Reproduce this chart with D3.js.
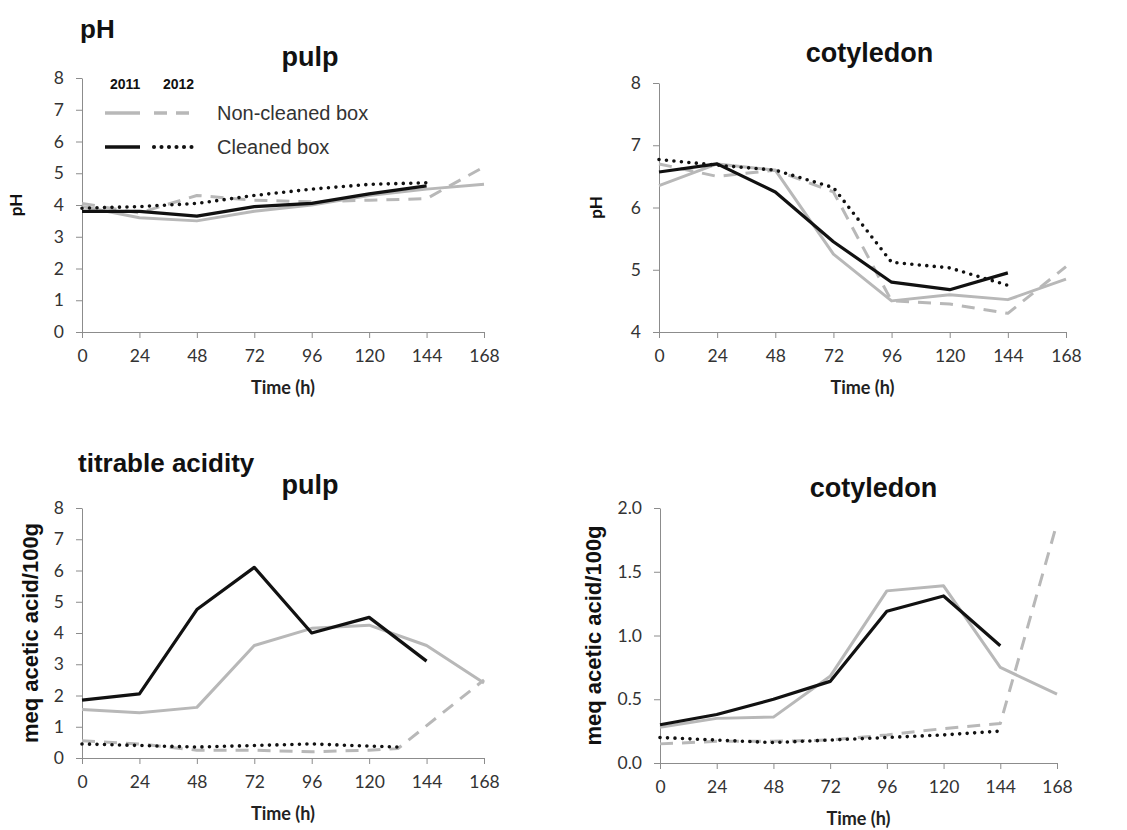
<!DOCTYPE html>
<html>
<head>
<meta charset="utf-8">
<script src="https://cdn.jsdelivr.net/npm/d3@7"></script>
<style>
  body { margin: 0; background: #fff; }
  svg { display: block; }
  .tick text { font-family: Lato, "Open Sans", sans-serif; font-size: 17.5px; fill: #333; }
  .domain, .tick line { stroke: #8c8c8c; }
</style>
</head>
<body>
<div id="chart"></div>
<script>
// time points (h)
const hours = [0, 24, 48, 72, 96, 120, 144, 168];
const hoursShort = [0, 24, 48, 72, 96, 120, 144];
const hoursAcid12 = [0, 24, 48, 72, 96, 120, 132, 168];
const hoursAcid12c = [0, 24, 48, 72, 96, 120, 132];
const xTicks = [0, 24, 48, 72, 96, 120, 144, 168];

// pH pulp
const phPulpNC11 = [3.95, 3.6, 3.5, 3.8, 4.0, 4.3, 4.5, 4.65];
const phPulpNC12 = [4.05, 3.75, 4.3, 4.15, 4.1, 4.15, 4.2, 5.2];
const phPulpC11 = [3.8, 3.8, 3.65, 3.95, 4.05, 4.35, 4.6];
const phPulpC12 = [3.9, 3.95, 4.05, 4.3, 4.5, 4.65, 4.7];

// pH cotyledon
const phCotNC11 = [6.35, 6.7, 6.6, 5.25, 4.5, 4.6, 4.52, 4.85];
const phCotNC12 = [6.7, 6.5, 6.6, 6.25, 4.5, 4.45, 4.3, 5.05];
const phCotC11 = [6.57, 6.7, 6.25, 5.45, 4.8, 4.68, 4.95];
const phCotC12 = [6.77, 6.68, 6.6, 6.32, 5.12, 5.03, 4.75];

// titrable acidity pulp
const taPulpNC11 = [1.55, 1.45, 1.62, 3.6, 4.15, 4.25, 3.6, 2.4];
const taPulpNC12 = [0.55, 0.45, 0.25, 0.25, 0.2, 0.25, 0.3, 2.5];
const taPulpC11 = [1.85, 2.05, 4.75, 6.1, 4.0, 4.5, 3.1];
const taPulpC12 = [0.45, 0.4, 0.35, 0.4, 0.45, 0.38, 0.35];

// titrable acidity cotyledon
const taCotNC11 = [0.28, 0.35, 0.36, 0.68, 1.35, 1.39, 0.75, 0.54];
const taCotNC12 = [0.15, 0.17, 0.17, 0.18, 0.22, 0.27, 0.31, 1.88];
const taCotC11 = [0.3, 0.38, 0.5, 0.64, 1.19, 1.31, 0.92];
const taCotC12 = [0.2, 0.18, 0.16, 0.18, 0.2, 0.22, 0.25];

const styles = {
  nc11: { stroke: '#b8b8b8', width: 3, dash: null, cap: 'butt' },
  nc12: { stroke: '#b8b8b8', width: 3, dash: '13,9', cap: 'butt' },
  c11: { stroke: '#111', width: 3.2, dash: null, cap: 'butt' },
  c12: { stroke: '#111', width: 3.6, dash: '0,7.5', cap: 'round' }
};

const svg = d3.select('#chart').append('svg')
  .attr('width', 1127).attr('height', 830);

function panel(cfg) {
  const x = d3.scaleLinear().domain([0, 168]).range([cfg.left, cfg.right]);
  const y = d3.scaleLinear().domain(cfg.yDomain).range([cfg.bottom, cfg.top]);
  const g = svg.append('g');

  g.append('g').attr('transform', `translate(0,${cfg.bottom})`)
    .call(d3.axisBottom(x).tickValues(xTicks).tickSize(6).tickPadding(12).tickSizeOuter(0));
  g.append('g').attr('transform', `translate(${cfg.left},0)`)
    .call(d3.axisLeft(y).tickValues(cfg.yTicks).tickFormat(cfg.fmt).tickSize(6).tickPadding(12).tickSizeOuter(0));

  const line = d3.line().x(d => x(d[0])).y(d => y(d[1]));
  cfg.series.forEach(s => {
    const st = styles[s.style];
    g.append('path')
      .datum(s.t.map((t, i) => [t, s.v[i]]))
      .attr('d', line)
      .attr('fill', 'none')
      .attr('stroke', st.stroke)
      .attr('stroke-width', st.width)
      .attr('stroke-dasharray', st.dash)
      .attr('stroke-linecap', st.cap)
      .attr('stroke-linejoin', 'round');
  });

  g.append('text')
    .attr('x', (cfg.left + cfg.right) / 2 + cfg.titleDx).attr('y', cfg.titleY)
    .attr('text-anchor', 'middle')
    .style('font-family', '"Liberation Sans", Arial, sans-serif')
    .style('font-weight', 'bold').style('font-size', '27px').style('fill', '#111')
    .text(cfg.title);

  g.append('text')
    .attr('x', (cfg.left + cfg.right) / 2).attr('y', cfg.bottom + 62)
    .attr('text-anchor', 'middle')
    .style('font-family', 'Lato, "Open Sans", sans-serif')
    .style('font-weight', 'bold').style('font-size', '18px').style('fill', '#222')
    .text('Time (h)');

  g.append('text')
    .attr('transform', `translate(${cfg.yLabelX},${(cfg.top + cfg.bottom) / 2}) rotate(-90)`)
    .attr('text-anchor', 'middle')
    .style('font-family', cfg.yLabelFont)
    .style('font-weight', 'bold').style('font-size', cfg.yLabelSize).style('fill', '#111')
    .text(cfg.yLabel);
}

const fmtInt = d3.format('d');
const fmt1 = d3.format('.1f');

panel({
  left: 82, right: 484, top: 78, bottom: 332,
  yDomain: [0, 8], yTicks: d3.range(0, 9), fmt: fmtInt,
  title: 'pulp', titleDx: 27, titleY: 66,
  yLabel: 'pH', yLabelX: 22, yLabelFont: 'Lato, sans-serif', yLabelSize: '17px',
  series: [
    { t: hours, v: phPulpNC11, style: 'nc11' },
    { t: hours, v: phPulpNC12, style: 'nc12' },
    { t: hoursShort, v: phPulpC11, style: 'c11' },
    { t: hoursShort, v: phPulpC12, style: 'c12' }
  ]
});

panel({
  left: 659, right: 1066, top: 83, bottom: 332,
  yDomain: [4, 8], yTicks: [4, 5, 6, 7, 8], fmt: fmtInt,
  title: 'cotyledon', titleDx: 7, titleY: 62,
  yLabel: 'pH', yLabelX: 602, yLabelFont: 'Lato, sans-serif', yLabelSize: '17px',
  series: [
    { t: hours, v: phCotNC11, style: 'nc11' },
    { t: hours, v: phCotNC12, style: 'nc12' },
    { t: hoursShort, v: phCotC11, style: 'c11' },
    { t: hoursShort, v: phCotC12, style: 'c12' }
  ]
});

panel({
  left: 82, right: 484, top: 508, bottom: 758,
  yDomain: [0, 8], yTicks: d3.range(0, 9), fmt: fmtInt,
  title: 'pulp', titleDx: 27, titleY: 494,
  yLabel: 'meq acetic acid/100g', yLabelX: 38, yLabelFont: '"Liberation Sans", Arial, sans-serif', yLabelSize: '22px',
  series: [
    { t: hours, v: taPulpNC11, style: 'nc11' },
    { t: hoursAcid12, v: taPulpNC12, style: 'nc12' },
    { t: hoursShort, v: taPulpC11, style: 'c11' },
    { t: hoursAcid12c, v: taPulpC12, style: 'c12' }
  ]
});

panel({
  left: 660, right: 1057, top: 508, bottom: 763,
  yDomain: [0, 2], yTicks: [0, 0.5, 1, 1.5, 2], fmt: fmt1,
  title: 'cotyledon', titleDx: 15, titleY: 497,
  yLabel: 'meq acetic acid/100g', yLabelX: 601, yLabelFont: '"Liberation Sans", Arial, sans-serif', yLabelSize: '22px',
  series: [
    { t: hours, v: taCotNC11, style: 'nc11' },
    { t: hours, v: taCotNC12, style: 'nc12' },
    { t: hoursShort, v: taCotC11, style: 'c11' },
    { t: hoursShort, v: taCotC12, style: 'c12' }
  ]
});

// section headings
const heading = (txt, x, y) => svg.append('text')
  .attr('x', x).attr('y', y)
  .style('font-family', '"Liberation Sans", Arial, sans-serif')
  .style('font-weight', 'bold').style('font-size', '26px').style('fill', '#111')
  .text(txt);
heading('pH', 80, 38);
heading('titrable acidity', 78, 472);

// legend
const legend = svg.append('g');
legend.selectAll('text.yr').data(['2011', '2012']).join('text')
  .attr('class', 'yr')
  .attr('x', (d, i) => 110 + i * 53).attr('y', 89)
  .style('font-family', '"Liberation Sans", Arial, sans-serif')
  .style('font-weight', 'bold').style('font-size', '14px').style('fill', '#111')
  .text(d => d);
const legendRows = [
  { label: 'Non-cleaned box', a: 'nc11', b: 'nc12', y: 113 },
  { label: 'Cleaned box', a: 'c11', b: 'c12', y: 147 }
];
legendRows.forEach(r => {
  [[r.a, 105, 140], [r.b, 154, 198]].forEach(([k, x1, x2]) => {
    const st = styles[k];
    legend.append('line')
      .attr('x1', x1).attr('x2', x2).attr('y1', r.y).attr('y2', r.y)
      .attr('stroke', st.stroke).attr('stroke-width', st.width + 0.5)
      .attr('stroke-dasharray', st.dash).attr('stroke-linecap', st.cap);
  });
  legend.append('text')
    .attr('x', 217).attr('y', r.y + 7)
    .style('font-family', '"Liberation Sans", Arial, sans-serif')
    .style('font-size', '20px').style('fill', '#333')
    .text(r.label);
});
</script>
</body>
</html>
